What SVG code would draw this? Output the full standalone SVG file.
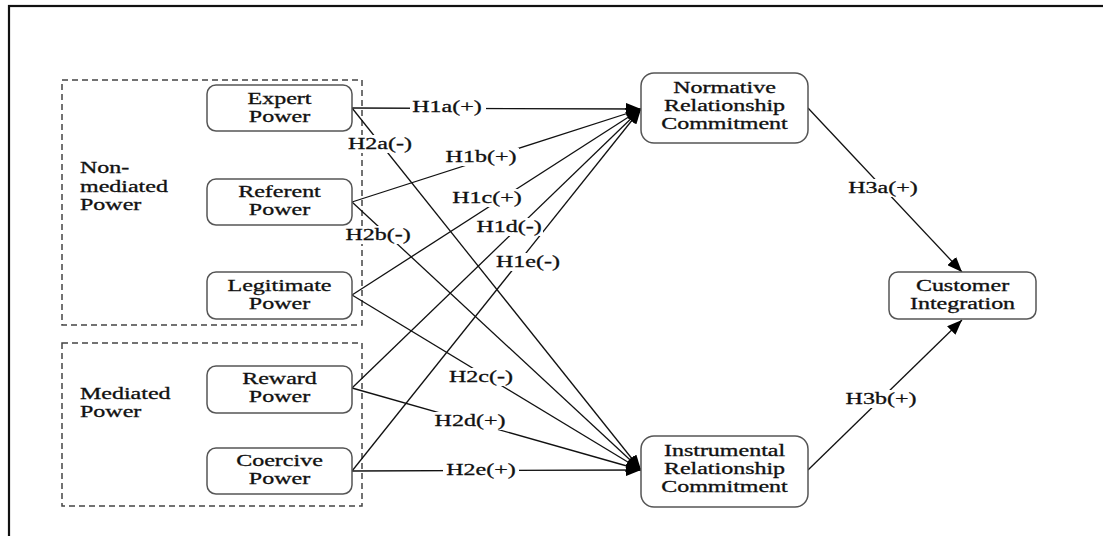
<svg xmlns="http://www.w3.org/2000/svg" width="1103" height="536" viewBox="0 0 1103 536">
  <style>
    .t { font-family: "Liberation Serif", "Times New Roman", serif; font-size: 16px; fill: #111; stroke: #111; stroke-width: 0.3; }
    .node { fill: #fff; stroke: #555; stroke-width: 1.5; }
    .group { fill: none; stroke: #444; stroke-width: 1.5; stroke-dasharray: 6 4; }
    .edge { stroke: #111; stroke-width: 1.3; fill: none; }
    .mask { fill: #fff; }
  </style>
  <defs>
    <marker id="arrow" markerUnits="userSpaceOnUse" markerWidth="16" markerHeight="12" refX="15" refY="6" orient="auto">
      <path d="M0,0 L15,6 L0,12 Z" fill="#000"/>
    </marker>
  </defs>

  <rect x="0" y="0" width="1103" height="536" fill="#fff"/>
  <!-- outer frame -->
  <rect x="9" y="6" width="1110" height="545" fill="none" stroke="#111" stroke-width="2.2"/>

  <!-- power groupings -->
  <g id="group-nonmediated">
    <rect class="group" x="62" y="80" width="300" height="245"/>
    <text class="t" transform="translate(80,173) scale(1.5,1)">Non-</text>
    <text class="t" transform="translate(80,192) scale(1.5,1)">mediated</text>
    <text class="t" transform="translate(80,210) scale(1.5,1)">Power</text>
  </g>
  <g id="group-mediated">
    <rect class="group" x="62" y="343" width="300" height="163"/>
    <text class="t" transform="translate(80,399) scale(1.5,1)">Mediated</text>
    <text class="t" transform="translate(80,417) scale(1.5,1)">Power</text>
  </g>

  <!-- connectors -->
  <g id="connectors">
    <line class="edge" x1="352" y1="108" x2="641" y2="109" marker-end="url(#arrow)"/>
    <line class="edge" x1="352" y1="202" x2="641" y2="109" marker-end="url(#arrow)"/>
    <line class="edge" x1="352" y1="295" x2="641" y2="109" marker-end="url(#arrow)"/>
    <line class="edge" x1="352" y1="388" x2="641" y2="109" marker-end="url(#arrow)"/>
    <line class="edge" x1="352" y1="471" x2="641" y2="109" marker-end="url(#arrow)"/>
    <line class="edge" x1="352" y1="108" x2="641" y2="470" marker-end="url(#arrow)"/>
    <line class="edge" x1="352" y1="202" x2="641" y2="470" marker-end="url(#arrow)"/>
    <line class="edge" x1="352" y1="295" x2="641" y2="470" marker-end="url(#arrow)"/>
    <line class="edge" x1="352" y1="388" x2="641" y2="470" marker-end="url(#arrow)"/>
    <line class="edge" x1="352" y1="471" x2="641" y2="470" marker-end="url(#arrow)"/>
    <line class="edge" x1="808" y1="108" x2="962" y2="272" marker-end="url(#arrow)"/>
    <line class="edge" x1="808" y1="470" x2="962" y2="320" marker-end="url(#arrow)"/>

    <!-- hypothesis labels -->
    <g id="labels">
      <rect class="mask" x="410" y="98" width="76" height="18"/>
      <text class="t" text-anchor="middle" transform="translate(447,112) scale(1.5,1)">H1a(+)</text>
      <rect class="mask" x="346" y="135" width="68" height="18"/>
      <text class="t" text-anchor="middle" transform="translate(380,149) scale(1.5,1)">H2a(-)</text>
      <rect class="mask" x="443" y="148" width="76" height="18"/>
      <text class="t" text-anchor="middle" transform="translate(481,162) scale(1.5,1)">H1b(+)</text>
      <rect class="mask" x="344" y="226" width="68" height="18"/>
      <text class="t" text-anchor="middle" transform="translate(378,240) scale(1.5,1)">H2b(-)</text>
      <rect class="mask" x="449" y="189" width="76" height="18"/>
      <text class="t" text-anchor="middle" transform="translate(487,203) scale(1.5,1)">H1c(+)</text>
      <rect class="mask" x="475" y="218" width="68" height="18"/>
      <text class="t" text-anchor="middle" transform="translate(509,232) scale(1.5,1)">H1d(-)</text>
      <rect class="mask" x="494" y="253" width="68" height="18"/>
      <text class="t" text-anchor="middle" transform="translate(528,267) scale(1.5,1)">H1e(-)</text>
      <rect class="mask" x="447" y="368" width="68" height="18"/>
      <text class="t" text-anchor="middle" transform="translate(481,382) scale(1.5,1)">H2c(-)</text>
      <rect class="mask" x="432" y="412" width="76" height="18"/>
      <text class="t" text-anchor="middle" transform="translate(470,426) scale(1.5,1)">H2d(+)</text>
      <rect class="mask" x="443" y="461" width="76" height="18"/>
      <text class="t" text-anchor="middle" transform="translate(481,475) scale(1.5,1)">H2e(+)</text>
      <rect class="mask" x="845" y="179" width="76" height="18"/>
      <text class="t" text-anchor="middle" transform="translate(883,193) scale(1.5,1)">H3a(+)</text>
      <rect class="mask" x="843" y="390" width="76" height="18"/>
      <text class="t" text-anchor="middle" transform="translate(881,404) scale(1.5,1)">H3b(+)</text>
    </g>
  </g>

  <!-- power bases -->
  <g id="expert-power">
    <rect class="node" x="207" y="85" width="145" height="46" rx="9"/>
    <text class="t" text-anchor="middle" transform="translate(279.5,104) scale(1.5,1)">Expert</text>
    <text class="t" text-anchor="middle" transform="translate(279.5,122) scale(1.5,1)">Power</text>
  </g>
  <g id="referent-power">
    <rect class="node" x="207" y="179" width="145" height="46" rx="9"/>
    <text class="t" text-anchor="middle" transform="translate(279.5,197) scale(1.5,1)">Referent</text>
    <text class="t" text-anchor="middle" transform="translate(279.5,215) scale(1.5,1)">Power</text>
  </g>
  <g id="legitimate-power">
    <rect class="node" x="207" y="272" width="145" height="47" rx="9"/>
    <text class="t" text-anchor="middle" transform="translate(279.5,291) scale(1.5,1)">Legitimate</text>
    <text class="t" text-anchor="middle" transform="translate(279.5,309) scale(1.5,1)">Power</text>
  </g>
  <g id="reward-power">
    <rect class="node" x="207" y="366" width="145" height="47" rx="9"/>
    <text class="t" text-anchor="middle" transform="translate(279.5,384) scale(1.5,1)">Reward</text>
    <text class="t" text-anchor="middle" transform="translate(279.5,402) scale(1.5,1)">Power</text>
  </g>
  <g id="coercive-power">
    <rect class="node" x="207" y="448" width="145" height="46" rx="9"/>
    <text class="t" text-anchor="middle" transform="translate(279.5,466) scale(1.5,1)">Coercive</text>
    <text class="t" text-anchor="middle" transform="translate(279.5,484) scale(1.5,1)">Power</text>
  </g>

  <!-- commitment constructs -->
  <g id="normative-commitment">
    <rect class="node" x="641" y="73" width="167" height="70" rx="13"/>
    <text class="t" text-anchor="middle" transform="translate(724.5,93) scale(1.5,1)">Normative</text>
    <text class="t" text-anchor="middle" transform="translate(724.5,111) scale(1.5,1)">Relationship</text>
    <text class="t" text-anchor="middle" transform="translate(724.5,129) scale(1.5,1)">Commitment</text>
  </g>
  <g id="instrumental-commitment">
    <rect class="node" x="641" y="436" width="167" height="71" rx="13"/>
    <text class="t" text-anchor="middle" transform="translate(724.5,456) scale(1.5,1)">Instrumental</text>
    <text class="t" text-anchor="middle" transform="translate(724.5,474) scale(1.5,1)">Relationship</text>
    <text class="t" text-anchor="middle" transform="translate(724.5,492) scale(1.5,1)">Commitment</text>
  </g>

  <!-- outcome -->
  <g id="customer-integration">
    <rect class="node" x="889" y="272" width="147" height="47" rx="9"/>
    <text class="t" text-anchor="middle" transform="translate(962.5,291) scale(1.5,1)">Customer</text>
    <text class="t" text-anchor="middle" transform="translate(962.5,309) scale(1.5,1)">Integration</text>
  </g>
</svg>
